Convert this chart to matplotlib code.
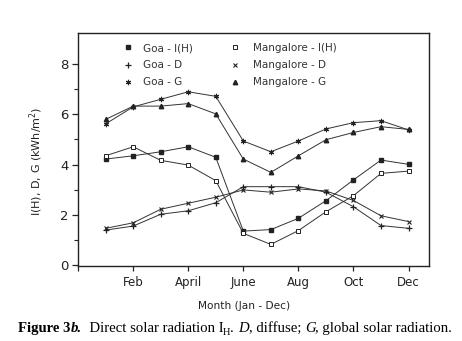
import matplotlib
matplotlib.use("Agg")
import matplotlib.pyplot as plt
from matplotlib.lines import Line2D

months = [1, 2, 3, 4, 5, 6, 7, 8, 9, 10, 11, 12]
goa_ih = [4.22, 4.35, 4.51, 4.71, 4.29, 1.35, 1.41, 1.86, 2.56, 3.39, 4.18, 4.01]
man_ih = [4.35, 4.71, 4.17, 3.98, 3.36, 1.26, 0.82, 1.37, 2.12, 2.76, 3.65, 3.74]
goa_d = [1.39, 1.55, 2.02, 2.16, 2.48, 3.12, 3.12, 3.12, 2.90, 2.32, 1.57, 1.46]
man_d = [1.46, 1.68, 2.22, 2.46, 2.70, 2.99, 2.90, 3.03, 2.95, 2.57, 1.96, 1.73]
goa_g = [5.62, 6.30, 6.60, 6.90, 6.72, 4.94, 4.51, 4.94, 5.42, 5.67, 5.75, 5.38]
man_g = [5.80, 6.33, 6.33, 6.43, 6.02, 4.22, 3.69, 4.35, 4.99, 5.28, 5.51, 5.40]

xtick_pos = [0, 2, 4, 6, 8, 10, 12]
xtick_labels = ["", "Feb", "April", "June", "Aug", "Oct", "Dec"]
ytick_pos = [0, 2, 4, 6, 8]

series = [
    ("Goa - I(H)", goa_ih, dict(marker="s", ms=3, mfc="#222", mec="#222")),
    ("Goa - D", goa_d, dict(marker="+", ms=4.2, mew=0.9, mec="#222")),
    ("Goa - G", goa_g, dict(marker=(6, 2, 0), ms=3.8, mew=0.8, mec="#222")),
    ("Mangalore - I(H)", man_ih, dict(marker="s", ms=3.2, mfc="white", mec="#222", mew=0.7)),
    ("Mangalore - D", man_d, dict(marker="x", ms=3.0, mew=0.8, mec="#222")),
    ("Mangalore - G", man_g, dict(marker="^", ms=3.2, mfc="#222", mec="#222")),
]

fig = plt.figure(figsize=(4.62, 3.41), dpi=100)
ax = fig.add_axes([0.169, 0.220, 0.760, 0.683])

for label, vals, style in series:
    ax.plot(months, vals, color="#333", lw=0.7, **style)

ax.set_xlim(0, 12.75)
ax.set_ylim(-0.04, 9.24)
ax.set_xticks(xtick_pos)
ax.set_xticklabels(xtick_labels, fontsize=8.5, color="#222")
ax.set_yticks(ytick_pos)
ax.set_yticks([1, 3, 5, 7], minor=True)
ax.tick_params(axis="y", which="major", direction="out", length=4, width=0.9,
               labelsize=9.5, pad=3, colors="#222")
ax.tick_params(axis="y", which="minor", direction="out", length=3, width=0.8, colors="#222")
ax.tick_params(axis="x", which="major", direction="out", length=3.5, width=0.9,
               pad=4, colors="#222")
for s in ax.spines.values():
    s.set_linewidth(1.0)
    s.set_color("#222")

ax.set_ylabel("I(H), D, G (kWh/m$^2$)", fontsize=8, color="#222")
ax.yaxis.set_label_coords(-0.095, 0.45)
xl = ax.set_xlabel("Month (Jan - Dec)", fontsize=7.6, color="#222")
ax.xaxis.set_label_coords(0.473, -0.15)

handles = []
for label, vals, style in series:
    handles.append(Line2D([], [], linestyle="none", color="#333", **style))
labels = [s[0] for s in series]
leg1 = ax.legend(handles[:3], labels[:3], loc="upper left", bbox_to_anchor=(0.115, 0.975),
                 frameon=False, fontsize=7.5, handlelength=1.0, handletextpad=1.0,
                 labelspacing=0.68, borderaxespad=0)
for t in leg1.get_texts():
    t.set_color("#333")
ax.add_artist(leg1)
leg2 = ax.legend(handles[3:], labels[3:], loc="upper left", bbox_to_anchor=(0.42, 0.975),
                 frameon=False, fontsize=7.5, handlelength=1.0, handletextpad=1.2,
                 labelspacing=0.68, borderaxespad=0)
for t in leg2.get_texts():
    t.set_color("#333")

# Caption
fs = 10.6
cy = 1 - 332 / 341
t1 = fig.text(18 / 462, cy, "Figure 3", fontsize=fs, family="Liberation Serif",
              weight="bold", va="baseline")
t2 = fig.text(0, 0, "b.", fontsize=fs, family="Liberation Serif", weight="bold",
              style="italic", va="baseline")
t3 = fig.text(0, 0, "  Direct solar radiation I", fontsize=fs, family="Liberation Serif",
              va="baseline")
t4 = fig.text(0, 0, "H", fontsize=7.5, family="Liberation Serif", va="baseline")
t5 = fig.text(0, 0, ". ", fontsize=fs, family="Liberation Serif", va="baseline")
t6 = fig.text(0, 0, "D", fontsize=fs, family="Liberation Serif", style="italic", va="baseline")
t7 = fig.text(0, 0, ", diffuse; ", fontsize=fs, family="Liberation Serif", va="baseline")
t8 = fig.text(0, 0, "G", fontsize=fs, family="Liberation Serif", style="italic", va="baseline")
t9 = fig.text(0, 0, ", global solar radiation.", fontsize=fs, family="Liberation Serif",
              va="baseline")

fig.canvas.draw()
r = fig.canvas.get_renderer()
parts = [t1, t2, t3, t4, t5, t6, t7, t8, t9]
x = 18 / 462
W = fig.bbox.width
for t in parts:
    yoff = cy - (3 / 341 if t is t4 else 0)
    t.set_position((x, yoff))
    fig.canvas.draw()
    bb = t.get_window_extent(r)
    x = bb.x1 / W

fig.savefig("out.png", dpi=100)
